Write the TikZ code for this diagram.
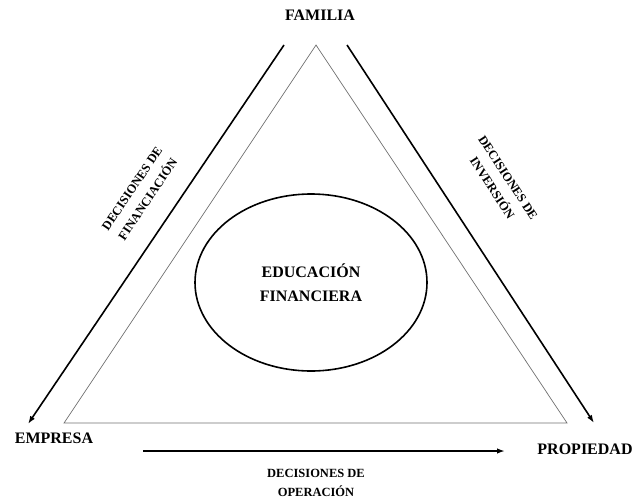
\documentclass[tikz,border=0pt]{standalone}
\usepackage{fontspec}
\setmainfont{Liberation Serif}
\usepackage{xcolor}
\definecolor{pale-line}{HTML}{707070}
\usepackage{tikz}
\usetikzlibrary{arrows.meta}
\usetikzlibrary{shapes.geometric}
\tikzset{corner/.style = {align=center, text centered, font=\fontsize{16}{24}\selectfont\bfseries}}
\tikzset{decision/.style = {align=center, text centered, font=\fontsize{12.5}{19}\selectfont\bfseries}}
\tikzset{arr/.style = {line width=1.6pt, -{Latex[length=8pt,width=5.5pt]}}}
\tikzset{tri/.style = {line width=0.7pt, draw=pale-line}}

\begin{document}
\begin{tikzpicture}[x=1pt, y=-1pt]
\useasboundingbox (0,0) rectangle (634,501);

\node[corner] (fam) at (320,15) {FAMILIA};
\node[corner] (emp) at (54,438) {EMPRESA};
\node[corner] (prop) at (585,449) {PROPIEDAD};
\node[corner, draw, ellipse, line width=1.6pt, inner sep=0pt,
  minimum width=232, minimum height=177] (edu) at (311,282.5) {
  EDUCACIÓN\\
  FINANCIERA
};

% thin triangle
\coordinate (t0) at (316,45);
\coordinate (t1) at (64,423);
\coordinate (t2) at (567,423);
\draw[tri] (t0) -- (t1) -- (t2) -- cycle;

% arrow ends
\coordinate (a0) at (284,45);
\coordinate (a1) at (28,424);
\coordinate (a2) at (347,45);
\coordinate (a3) at (594,423);
\coordinate (a4) at (143,451);
\coordinate (a5) at (505,451);

\draw[arr] (a0) -- (a1);
\draw[arr] (a2) -- (a3);
\draw[arr] (a4) -- (a5);

\node[decision, rotate=56] (d0) at (140,194) {DECISIONES DE\\ FINANCIACIÓN};
\node[decision, rotate=-56.8] (d1) at (500,183) {DECISIONES DE\\ INVERSIÓN};
\node[decision] (d2) at (316,482.5) {DECISIONES DE\\ OPERACIÓN};

\end{tikzpicture}
\end{document}
